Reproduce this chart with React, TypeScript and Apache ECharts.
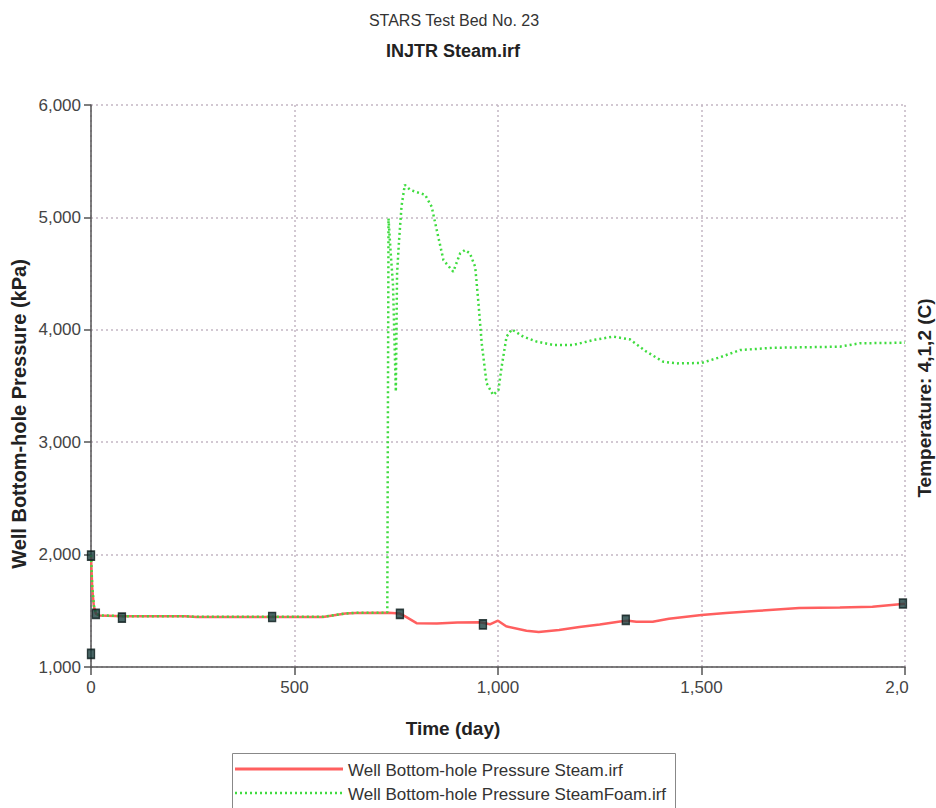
import React, { useEffect, useRef } from "react";
import * as echarts from "echarts";

const chartTitle = "STARS Test Bed No. 23";
const chartSubtitle = "INJTR Steam.irf";
const xTitle = "Time (day)";
const yTitle = "Well Bottom-hole Pressure (kPa)";
const rightTitle = "Temperature: 4,1,2 (C)";
const steamName = "Well Bottom-hole Pressure Steam.irf";
const foamName = "Well Bottom-hole Pressure SteamFoam.irf";

const steamData: [number, number][] = [
  [0, 1990], [3, 1700], [7, 1540], [12, 1475], [20, 1458], [80, 1452], [230, 1452],
  [260, 1445], [570, 1445], [625, 1475], [650, 1480], [730, 1482], [759, 1475],
  [772, 1450], [800, 1390], [850, 1388], [900, 1395], [955, 1398], [980, 1380],
  [1000, 1412], [1020, 1362], [1070, 1322], [1100, 1312], [1150, 1330], [1200, 1356],
  [1250, 1378], [1300, 1405], [1320, 1412], [1340, 1402], [1380, 1402], [1420, 1430],
  [1500, 1463], [1560, 1480], [1640, 1500], [1740, 1525], [1840, 1530], [1920, 1535],
  [2000, 1562],
];

const foamData: [number, number][] = [
  [0, 1995], [3, 1720], [7, 1550], [12, 1478], [20, 1460], [80, 1452], [230, 1452],
  [260, 1446], [570, 1446], [625, 1476], [650, 1482], [728, 1484], [731, 4990],
  [736, 4700], [742, 4400], [749, 3450], [752, 4500], [757, 4800], [763, 5100],
  [771, 5290], [784, 5245], [821, 5200], [837, 5095], [853, 4830], [866, 4620],
  [890, 4517], [907, 4680], [919, 4710], [931, 4680], [944, 4560], [952, 4236],
  [960, 3880], [972, 3524], [988, 3420], [1001, 3464], [1009, 3672], [1021, 3939],
  [1034, 4004], [1062, 3939], [1095, 3895], [1136, 3865], [1185, 3865], [1234, 3909],
  [1283, 3939], [1324, 3915], [1365, 3805], [1406, 3716], [1439, 3701], [1500, 3705],
  [1545, 3755], [1595, 3820], [1676, 3840], [1840, 3850], [1889, 3880], [2000, 3885],
];

const observedData: [number, number][] = [
  [0, 1116], [0, 1990], [12, 1472], [76, 1440], [445, 1445], [759, 1472],
  [963, 1380], [1314, 1420], [1995, 1565],
];

const FONT = "'Liberation Sans', Arial, sans-serif";
const RED = "#ff5f5f";
const GREEN = "#3fdc3f";

export default function App() {
  const ref = useRef<HTMLDivElement>(null);
  useEffect(() => {
    document.body.style.margin = "0";
    if (!ref.current) return;
    const chart = echarts.init(ref.current, undefined, { renderer: "svg" });
    const fmt = (v: number) => v.toLocaleString("en-US");
    chart.setOption({
      animation: false,
      backgroundColor: "#ffffff",
      textStyle: { fontFamily: FONT },
      grid: { left: 91, right: 31, top: 105, bottom: 141, containLabel: false },
      xAxis: {
        type: "value",
        min: 0,
        max: 2000,
        interval: 500,
        axisLine: { show: true, lineStyle: { color: "#555", width: 1.5 } },
        axisTick: { show: true, length: 8, lineStyle: { color: "#555", width: 1.5 } },
        axisLabel: {
          fontSize: 17,
          color: "#444",
          margin: 12,
          fontFamily: FONT,
          formatter: (v: number) => (v === 2000 ? "{c|2,0}" : fmt(v)),
          rich: { c: { fontSize: 17, color: "#444", fontFamily: FONT, padding: [0, 16, 0, 0] } },
        },
        splitLine: { show: true, lineStyle: { color: "#c4b6c4", type: [2, 3], width: 1.5 } },
      },
      yAxis: {
        type: "value",
        min: 1000,
        max: 6000,
        interval: 1000,
        axisLine: { show: true, lineStyle: { color: "#555", width: 1.5 } },
        axisTick: { show: true, length: 7, lineStyle: { color: "#555", width: 1.5 } },
        axisLabel: { fontSize: 17, color: "#444", margin: 10, fontFamily: FONT, formatter: fmt },
        splitLine: { show: true, lineStyle: { color: "#c4b6c4", type: [2, 3], width: 1.5 } },
      },
      legend: { show: false },
      graphic: [
        { type: "text", x: 454, y: 20, style: { text: chartTitle, font: `16px ${FONT}`, fill: "#333", align: "center", verticalAlign: "middle" } },
        { type: "text", x: 453, y: 51, style: { text: chartSubtitle, font: `bold 18px ${FONT}`, fill: "#222", align: "center", verticalAlign: "middle" } },
        { type: "text", x: 453, y: 728, style: { text: xTitle, font: `bold 19px ${FONT}`, fill: "#222", align: "center", verticalAlign: "middle" } },
        { type: "text", x: 19, y: 414, rotation: Math.PI / 2, style: { text: yTitle, font: `bold 20px ${FONT}`, fill: "#222", align: "center", verticalAlign: "middle" } },
        { type: "text", x: 924, y: 398, rotation: Math.PI / 2, style: { text: rightTitle, font: `bold 19px ${FONT}`, fill: "#222", align: "center", verticalAlign: "middle" } },
        { type: "rect", shape: { x: 232.5, y: 753.5, width: 443, height: 80 }, style: { fill: "#fff", stroke: "#888", lineWidth: 1 } },
        { type: "line", shape: { x1: 235, y1: 769, x2: 343, y2: 769 }, style: { stroke: RED, lineWidth: 3 } },
        { type: "line", shape: { x1: 235, y1: 793, x2: 343, y2: 793 }, style: { stroke: GREEN, lineWidth: 2.5, lineDash: [2, 3] } },
        { type: "text", x: 348, y: 770, style: { text: steamName, font: `17px ${FONT}`, fill: "#333", align: "left", verticalAlign: "middle" } },
        { type: "text", x: 348, y: 794, style: { text: foamName, font: `17px ${FONT}`, fill: "#333", align: "left", verticalAlign: "middle" } },
      ],
      series: [
        {
          name: steamName,
          type: "line",
          data: steamData,
          symbol: "none",
          lineStyle: { color: RED, width: 2.5 },
          itemStyle: { color: RED },
          z: 2,
        },
        {
          name: foamName,
          type: "line",
          data: foamData,
          symbol: "none",
          lineStyle: { color: GREEN, width: 2.5, type: [2, 3] },
          itemStyle: { color: GREEN },
          z: 3,
        },
        {
          name: "Observed",
          type: "scatter",
          data: observedData,
          symbol: "rect",
          symbolSize: [7, 9],
          itemStyle: { color: "#1b4040", borderColor: "#0a1a1a", borderWidth: 1.5 },
          z: 4,
        },
      ],
    });
    return () => chart.dispose();
  }, []);
  return <div ref={ref} style={{ width: 936, height: 808 }} />;
}
